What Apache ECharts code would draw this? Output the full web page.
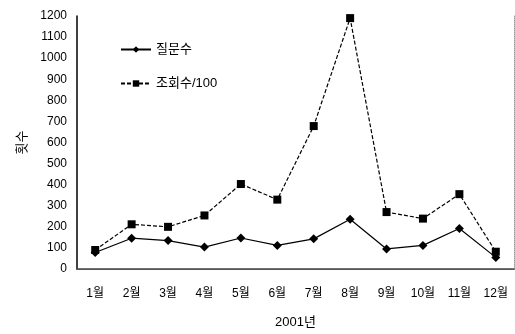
<!DOCTYPE html>
<html>
<head>
<meta charset="utf-8">
<script src="https://cdn.jsdelivr.net/npm/echarts@6/dist/echarts.min.js"></script>
<style>
  html, body { margin: 0; padding: 0; background: #fff; }
  #chart { width: 515px; height: 334px; }
</style>
</head>
<body>
<div id="chart"></div>
<script>
// Monthly counts for 2001
const months = ['1월', '2월', '3월', '4월', '5월', '6월', '7월', '8월', '9월', '10월', '11월', '12월'];
const questions = [78, 146, 135, 104, 147, 112, 143, 236, 95, 112, 192, 55];
const viewsPer100 = [90, 212, 200, 254, 403, 329, 678, 1190, 270, 239, 355, 82];
const yTicks = { min: 0, max: 1200, step: 100 };

const font = '"Liberation Sans", Arial, "Noto Sans CJK KR", sans-serif';
const chart = echarts.init(document.getElementById('chart'));

chart.setOption({
  animation: false,
  backgroundColor: '#fff',
  textStyle: { fontFamily: font, color: '#000' },
  grid: { left: 77, right: 1, top: 16, bottom: 60 },
  legend: {
    orient: 'vertical',
    left: 115,
    top: 38,
    itemGap: 21,
    itemWidth: 30,
    itemHeight: 8,
    textStyle: { fontSize: 13, color: '#000', fontFamily: font },
    data: ['질문수', '조회수/100']
  },
  xAxis: [{
    type: 'category',
    data: months,
    boundaryGap: true,
    name: '2001년',
    nameLocation: 'middle',
    nameGap: 47,
    nameTextStyle: { fontSize: 13, color: '#000', fontFamily: font },
    axisLine: { lineStyle: { color: '#777', type: 'dotted', width: 1 } },
    axisTick: { show: false },
    axisLabel: { margin: 19, fontSize: 12, color: '#000', interval: 0 }
  }, {
    type: 'category',
    data: months,
    position: 'top',
    axisLine: { lineStyle: { color: '#444', width: 1.5 } },
    axisTick: { show: false },
    axisLabel: { show: false }
  }],
  yAxis: [{
    type: 'value',
    min: yTicks.min,
    max: yTicks.max,
    interval: yTicks.step,
    name: '횟수',
    nameLocation: 'middle',
    nameRotate: 90,
    nameGap: 33,
    nameTextStyle: { fontSize: 13, color: '#000', fontFamily: font },
    axisLine: { show: true, lineStyle: { color: '#000', width: 1.5 } },
    axisTick: { show: false },
    splitLine: { show: false },
    axisLabel: { margin: 10, fontSize: 12, color: '#000', formatter: v => String(v) }
  }, {
    type: 'value',
    min: yTicks.min,
    max: yTicks.max,
    interval: yTicks.step,
    position: 'right',
    axisLine: { show: true, lineStyle: { color: '#999', type: 'dotted', width: 1 } },
    axisTick: { show: false },
    splitLine: { show: false },
    axisLabel: { show: false }
  }],
  series: [{
    name: '질문수',
    type: 'line',
    data: questions,
    symbol: 'diamond',
    symbolSize: 9,
    lineStyle: { color: '#000', width: 1.2 },
    itemStyle: { color: '#000' }
  }, {
    name: '조회수/100',
    type: 'line',
    data: viewsPer100,
    symbol: 'rect',
    symbolSize: 8,
    lineStyle: { color: '#000', width: 1.2, type: [4, 2] },
    itemStyle: { color: '#000' }
  }]
});
</script>
</body>
</html>
